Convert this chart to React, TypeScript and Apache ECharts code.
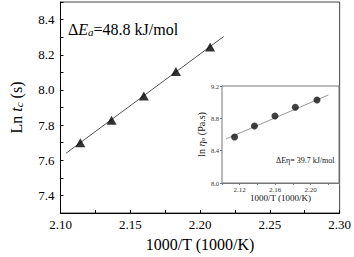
import React, { useEffect, useRef } from "react";
import * as echarts from "echarts";

// Shared temperatures (1000/T, 1000/K)
const invT = [2.1142, 2.1366, 2.1597, 2.1827, 2.2072];
// Main panel: Ln t_c (s)
const lnTc = [7.7, 7.827, 7.966, 8.105, 8.244];
const mainFitX = [2.104, 2.217];
const mainFitY = [7.64, 8.304];
// Inset: ln eta_o (Pa.s)
const lnEta = [8.569, 8.705, 8.829, 8.937, 9.027];
const insetFitX = [2.1045, 2.22];
const insetFitY = [8.545, 9.089];

const mainLabel = "=48.8 kJ/mol";
const insetLabel = "ΔEη= 39.7 kJ/mol";

const SERIF = "Liberation Serif";

export default function App() {
  const ref = useRef<HTMLDivElement>(null);
  useEffect(() => {
    if (!ref.current) return;
    const chart = echarts.init(ref.current, undefined, { renderer: "svg" });
    const pts = invT.map((x, i) => [x, lnTc[i]]);
    const ipts = invT.map((x, i) => [x, lnEta[i]]);
    chart.setOption({
      animation: false,
      backgroundColor: "#fff",
      textStyle: { fontFamily: SERIF },
      grid: [
        { left: 56, right: 12, top: 2, bottom: 43, show: true, borderColor: "#444", borderWidth: 1, backgroundColor: "transparent" },
        { left: 222, right: 15, top: 86, bottom: 74, show: true, borderColor: "#777", borderWidth: 1, backgroundColor: "#fff", z: 5 },
      ],
      xAxis: [
        {
          type: "value", gridIndex: 0, min: 2.1, max: 2.3, interval: 0.025,
          axisLine: { lineStyle: { color: "#000", width: 1 } },
          axisTick: { inside: true, length: 3, lineStyle: { color: "#000" } },
          splitLine: { show: false },
          axisLabel: {
            color: "#000", fontSize: 13, fontFamily: SERIF, margin: 5,
            formatter: (v: number) => { const k = Math.round(v * 1000); return k % 50 === 0 ? (k / 1000).toFixed(2) : ""; },
          },
          name: "1000/T (1000/K)", nameLocation: "middle", nameGap: 23,
          nameTextStyle: { color: "#000", fontSize: 16, fontFamily: SERIF },
        },
        {
          type: "value", gridIndex: 1, min: 2.1, max: 2.232, interval: 0.02,
          axisLine: { lineStyle: { color: "#777", width: 1 } },
          axisTick: { inside: false, length: 2, lineStyle: { color: "#777" } },
          splitLine: { show: false },
          axisLabel: {
            color: "#333", fontSize: 7, fontFamily: SERIF, margin: 3,
            formatter: (v: number) => { const k = Math.round(v * 100); return k % 4 === 0 && Math.abs(v * 100 - k) < 0.01 ? (k / 100).toFixed(2) : ""; },
          },
          name: "1000/T (1000/K)", nameLocation: "middle", nameGap: 10,
          nameTextStyle: { color: "#111", fontSize: 9, fontFamily: SERIF },
        },
      ],
      yAxis: [
        {
          type: "value", gridIndex: 0, min: 7.3, max: 8.5, interval: 0.1,
          axisLine: { show: true, lineStyle: { color: "#000", width: 1 } },
          axisTick: { show: true, inside: true, length: 3, lineStyle: { color: "#000" } },
          splitLine: { show: false },
          axisLabel: {
            color: "#000", fontSize: 13, fontFamily: SERIF, margin: 6,
            formatter: (v: number) => { const k = Math.round(v * 10); return k % 2 === 0 ? (k / 10).toFixed(1) : ""; },
          },
          name: "Ln {i|t}{s|c} (s)", nameLocation: "middle", nameGap: 36,
          nameTextStyle: {
            color: "#000", fontSize: 16, fontFamily: SERIF,
            rich: {
              i: { fontSize: 16, fontStyle: "italic", fontFamily: SERIF, color: "#000" },
              s: { fontSize: 11, fontStyle: "italic", fontFamily: SERIF, color: "#000", verticalAlign: "bottom", padding: [6, 0, 0, 0] },
            },
          },
        },
        {
          type: "value", gridIndex: 1, min: 8.0, max: 9.2, interval: 0.4,
          axisLine: { show: true, lineStyle: { color: "#777", width: 1 } },
          axisTick: { show: true, inside: false, length: 2, lineStyle: { color: "#777" } },
          splitLine: { show: false },
          axisLabel: { color: "#333", fontSize: 6.5, fontFamily: SERIF, margin: 3, formatter: (v: number) => v.toFixed(1) },
          name: "ln {i|η}{s|o} (Pa.s)", nameLocation: "middle", nameGap: 12,
          nameTextStyle: {
            color: "#111", fontSize: 10, fontFamily: SERIF,
            rich: {
              i: { fontSize: 11, fontStyle: "italic", fontFamily: SERIF, color: "#111" },
              s: { fontSize: 7, fontStyle: "italic", fontFamily: SERIF, color: "#111", verticalAlign: "bottom", padding: [4, 0, 0, 0] },
            },
          },
        },
      ],
      series: [
        {
          type: "line", xAxisIndex: 0, yAxisIndex: 0, symbol: "none",
          data: mainFitX.map((x, i) => [x, mainFitY[i]]),
          lineStyle: { color: "#555", width: 1 }, z: 2,
        },
        {
          type: "scatter", xAxisIndex: 0, yAxisIndex: 0, symbol: "triangle", symbolSize: [10, 9],
          data: pts, itemStyle: { color: "#000" }, z: 3,
        },
        {
          type: "line", xAxisIndex: 1, yAxisIndex: 1, symbol: "none",
          data: insetFitX.map((x, i) => [x, insetFitY[i]]),
          lineStyle: { color: "#999", width: 1 }, z: 6,
        },
        {
          type: "scatter", xAxisIndex: 1, yAxisIndex: 1, symbol: "circle", symbolSize: 7,
          data: ipts, itemStyle: { color: "#111" }, z: 7,
        },
      ],
      graphic: [
        {
          type: "text", left: 68, top: 21, z: 10,
          style: {
            text: "{n|Δ}{i|E}{s|a}{n|" + mainLabel + "}",
            rich: {
              n: { fontSize: 16, fontFamily: SERIF, fill: "#000", color: "#000" },
              i: { fontSize: 16, fontFamily: SERIF, fontStyle: "italic", fill: "#000", color: "#000" },
              s: { fontSize: 11, fontFamily: SERIF, fontStyle: "italic", fill: "#000", color: "#000", verticalAlign: "bottom", padding: [6, 0, 0, 0] },
            },
          },
        },
        {
          type: "text", left: 276, top: 156, z: 20,
          style: { text: insetLabel, fontSize: 8, fontFamily: SERIF, fill: "#111" },
        },
      ],
    });
    return () => chart.dispose();
  }, []);
  return <div ref={ref} style={{ position: "fixed", left: 0, top: 0, width: 354, height: 257 }} />;
}
